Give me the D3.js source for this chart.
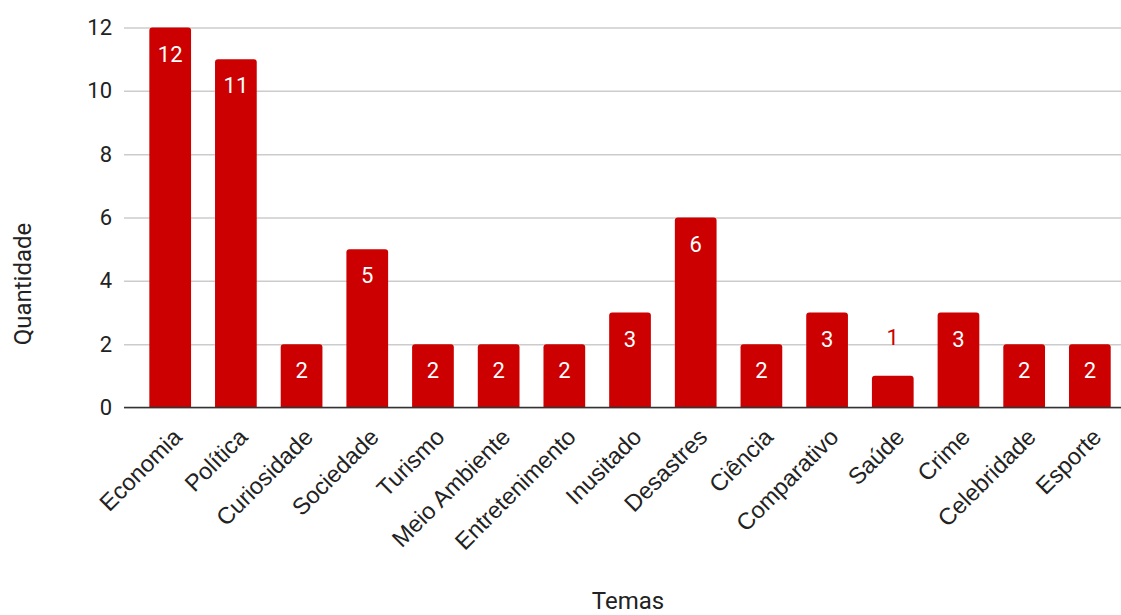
<!DOCTYPE html>
<html>
<head>
<meta charset="utf-8">
<script src="https://cdn.jsdelivr.net/npm/d3@7"></script>
<style>
  html, body { margin: 0; padding: 0; background: #fff; }
  svg { display: block; }
</style>
</head>
<body>
<svg id="chart" width="1121" height="615"></svg>
<script>
// Themes and how many items fall under each
const categories = ["Economia", "Política", "Curiosidade", "Sociedade", "Turismo", "Meio Ambiente",
  "Entretenimento", "Inusitado", "Desastres", "Ciência", "Comparativo", "Saúde", "Crime",
  "Celebridade", "Esporte"];
const values = [12, 11, 2, 5, 2, 2, 2, 3, 6, 2, 3, 1, 3, 2, 2];
const yTicks = [0, 2, 4, 6, 8, 10, 12];
const xTitle = "Temas";
const yTitle = "Quantidade";

const W = 1121, H = 615;
const plot = { left: 124, right: 1121, top: 27.5, bottom: 407.5 };
const barColor = "#cc0000";

const svg = d3.select("#chart");

const x = d3.scaleBand()
  .domain(categories)
  .range([137.35, 1122.7])
  .paddingInner(0.365)
  .paddingOuter(0.1825);

const y = d3.scaleLinear()
  .domain([0, 12])
  .range([plot.bottom, plot.top]);

// Horizontal gridlines with value labels
const yAxis = d3.axisLeft(y)
  .tickValues(yTicks)
  .tickSize(-(plot.right - plot.left))
  .tickPadding(12)
  .tickFormat(d3.format("d"));

const gy = svg.append("g")
  .attr("transform", `translate(${plot.left},0)`)
  .call(yAxis);
gy.select(".domain").remove();
gy.selectAll(".tick line").attr("stroke", "#cccccc").attr("stroke-width", 1.5);
gy.selectAll(".tick text")
  .attr("fill", "#222")
  .style("font-family", "Roboto, sans-serif")
  .style("font-size", "22px");

// Bars with slightly rounded top corners
const r = 3;
function barPath(d, i) {
  const x0 = x(categories[i]);
  const w = x.bandwidth();
  const yt = y(d);
  const yb = y(0);
  return `M${x0},${yb} V${yt + r} Q${x0},${yt} ${x0 + r},${yt} H${x0 + w - r} Q${x0 + w},${yt} ${x0 + w},${yt + r} V${yb} Z`;
}

svg.append("g")
  .selectAll("path")
  .data(values)
  .join("path")
  .attr("d", barPath)
  .attr("fill", barColor);

// Baseline
svg.append("line")
  .attr("x1", plot.left).attr("x2", plot.right)
  .attr("y1", y(0)).attr("y2", y(0))
  .attr("stroke", "#333").attr("stroke-width", 1.6);

// Value labels: inside the bar when it is tall enough, otherwise above it
svg.append("g")
  .selectAll("text")
  .data(values)
  .join("text")
  .attr("x", (d, i) => x(categories[i]) + x.bandwidth() / 2)
  .attr("y", d => (y(0) - y(d) > 45) ? y(d) + 34 : y(d) - 31)
  .attr("text-anchor", "middle")
  .attr("fill", d => (y(0) - y(d) > 45) ? "#ffffff" : barColor)
  .style("font-family", "Roboto, sans-serif")
  .style("font-size", "22px")
  .text(d => d);

// Category labels, rotated
svg.append("g")
  .selectAll("text")
  .data(categories)
  .join("text")
  .attr("transform", d => `translate(${x(d) + x.bandwidth() / 2 + 13},${plot.bottom + 31}) rotate(-45)`)
  .attr("text-anchor", "end")
  .attr("fill", "#222")
  .style("font-family", "'Liberation Sans', Arial, sans-serif")
  .style("font-size", "23.5px")
  .text(d => d);

// Axis titles
svg.append("text")
  .attr("x", 628).attr("y", 609)
  .attr("text-anchor", "middle")
  .attr("fill", "#222")
  .style("font-family", "Roboto, sans-serif")
  .style("font-size", "24px")
  .text(xTitle);

svg.append("text")
  .attr("transform", "translate(31,284) rotate(-90)")
  .attr("text-anchor", "middle")
  .attr("fill", "#222")
  .style("font-family", "Roboto, sans-serif")
  .style("font-size", "24px")
  .text(yTitle);
</script>
</body>
</html>
